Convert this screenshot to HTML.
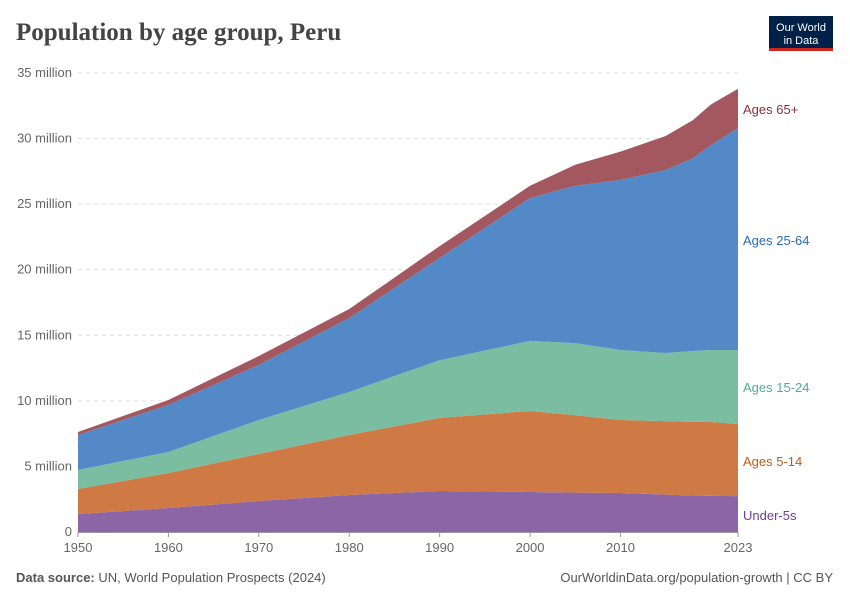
<!DOCTYPE html>
<html><head><meta charset="utf-8"><style>
body{margin:0;background:#fff;font-family:"Liberation Sans",sans-serif}
svg{display:block}
</style></head><body>
<svg width="850" height="600" viewBox="0 0 850 600">
<text x="16" y="40" font-family="Liberation Serif" font-size="25" font-weight="bold" fill="#444">Population by age group, Peru</text>
<g>
<rect x="769" y="16" width="64" height="34" fill="#002147"/>
<rect x="769" y="48" width="64" height="3" fill="#ce261e"/>
<text x="801" y="31" fill="#fff" font-size="11" text-anchor="middle">Our World</text>
<text x="801" y="44" fill="#fff" font-size="11" text-anchor="middle">in Data</text>
</g>
<g id="grid"></g>
<g id="areas"></g>
<g id="xaxis"></g>
<g id="labels"></g>
<text x="16" y="582" font-size="13" fill="#555"><tspan font-weight="bold">Data source:</tspan> UN, World Population Prospects (2024)</text>
<text x="833" y="582" font-size="13" fill="#555" text-anchor="end">OurWorldinData.org/population-growth | CC BY</text>
</svg>
<script>
const years=[1950,1960,1970,1980,1990,2000,2005,2010,2015,2018,2020,2023];
const under5=[1.37,1.83,2.36,2.82,3.13,3.05,3.0,2.97,2.85,2.78,2.75,2.74];
const ages5to14=[1.91,2.67,3.59,4.58,5.57,6.18,5.9,5.57,5.6,5.62,5.64,5.5];
const ages15to24=[1.45,1.6,2.59,3.28,4.4,5.34,5.5,5.34,5.2,5.4,5.49,5.64];
const ages25to64=[2.67,3.59,4.2,5.64,7.8,10.9,12.0,12.97,13.95,14.7,15.62,16.92];
const ages65plus=[0.23,0.38,0.68,0.68,0.9,0.93,1.6,2.15,2.6,2.9,3.1,3.0];
const yTicks=[0,5,10,15,20,25,30,35];
const xTicks=[1950,1960,1970,1980,1990,2000,2010,2023];
const series=[
 {name:"under-5s",label:"Under-5s",vals:under5,color:"#8c65a7",tc:"#6d3e91",ly:515},
 {name:"ages-5-14",label:"Ages 5-14",vals:ages5to14,color:"#cf7a45",tc:"#c05917",ly:461},
 {name:"ages-15-24",label:"Ages 15-24",vals:ages15to24,color:"#7bbda0",tc:"#58ac8c",ly:387},
 {name:"ages-25-64",label:"Ages 25-64",vals:ages25to64,color:"#5489c8",tc:"#286bbb",ly:240},
 {name:"ages-65-plus",label:"Ages 65+",vals:ages65plus,color:"#a3575f",tc:"#883039",ly:109}];
const NS="http://www.w3.org/2000/svg";
const X=y=>78+(y-1950)*(738-78)/(2023-1950);
const Y=v=>532-v*(532-73)/35;
function mk(t,a,p){const e=document.createElementNS(NS,t);for(const k in a)e.setAttribute(k,a[k]);p.appendChild(e);return e;}
const grid=document.getElementById('grid');
yTicks.forEach(t=>{
 if(t>0){const l=mk('line',{x1:78,x2:738,y1:Y(t),y2:Y(t),stroke:'#ddd','stroke-dasharray':'4,4'},grid);
 
 }
 const tx=mk('text',{x:72,y:Y(t)+4,'text-anchor':'end','font-size':13,fill:'#666'},grid);
 tx.textContent=t===0?'0':t+' million';
 
 
});
const areas=document.getElementById('areas');
let base=years.map(()=>0);
series.forEach(s=>{
 const top=base.map((b,i)=>b+s.vals[i]);
 let d='M'+years.map((y,i)=>X(y)+','+Y(top[i])).join('L');
 for(let i=years.length-1;i>=0;i--)d+='L'+X(years[i])+','+Y(base[i]);
 const p=mk('path',{d:d+'Z',fill:s.color},areas);
 
 
 const t=mk('text',{x:743,y:s.ly+5,'font-size':13,fill:s.tc},document.getElementById('labels'));
 t.textContent=s.label;
 
 
 base=top;
});
const xa=document.getElementById('xaxis');
mk('line',{x1:78,x2:738,y1:532.5,y2:532.5,stroke:'#999'},xa);
xTicks.forEach(y=>{
 mk('line',{x1:X(y),x2:X(y),y1:532,y2:537,stroke:'#999'},xa);
 const t=mk('text',{x:X(y),y:552,'text-anchor':'middle','font-size':13,fill:'#666'},xa);
 t.textContent=y;
 
 
});
</script>
</body></html>
